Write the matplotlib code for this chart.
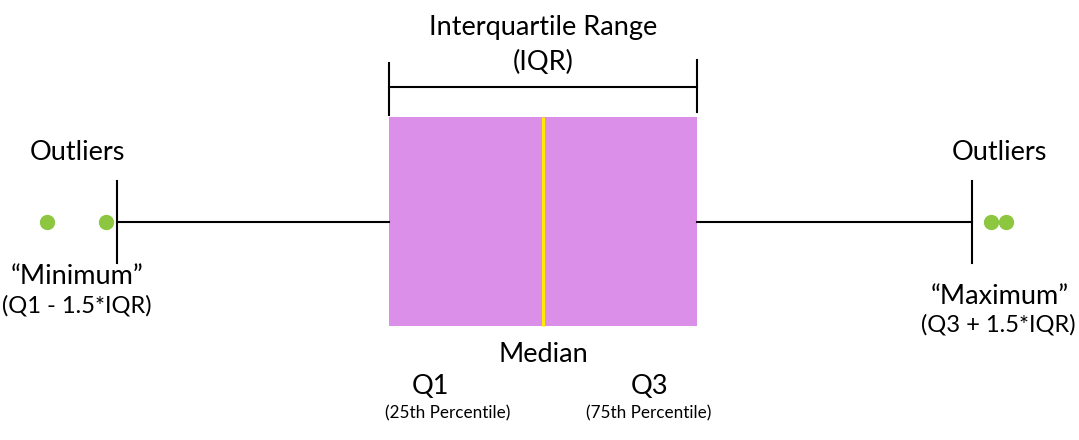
import matplotlib.pyplot as plt

# box statistics (in diagram units)
q1 = 389
median = 543
q3 = 697
whisker_low = 117
whisker_high = 972
outliers = [47, 106, 991, 1006]

plt.rcParams['font.family'] = ['Lato', 'DejaVu Sans']

fig = plt.figure(figsize=(10.79, 4.40), dpi=100)
ax = fig.add_axes([0, 0, 1, 1])
ax.set_xlim(0, 1079)
ax.set_ylim(440, 0)
ax.axis('off')

stats = [{'q1': q1, 'med': median, 'q3': q3,
          'whislo': whisker_low, 'whishi': whisker_high,
          'fliers': outliers}]

ax.bxp(stats, positions=[222], widths=[209], capwidths=[82],
       orientation='horizontal', patch_artist=True, manage_ticks=False,
       boxprops=dict(facecolor='#db8fe8', edgecolor='#db8fe8', linewidth=0),
       medianprops=dict(color='#ffec00', linewidth=2.2),
       whiskerprops=dict(color='black', linewidth=1.5),
       capprops=dict(color='black', linewidth=1.5),
       flierprops=dict(marker='o', markerfacecolor='#8dc63f',
                       markeredgecolor='#8dc63f', markersize=10))

# IQR bracket
ax.plot([q1, q3], [87, 87], color='black', lw=1.5)
ax.plot([q1, q1], [63, 115], color='black', lw=1.5)
ax.plot([q3, q3], [60, 112], color='black', lw=1.5)

big = 19.5
mid = 17
small = 12.3
ax.text(median, 27, 'Interquartile Range', fontsize=big, ha='center', va='center')
ax.text(median, 62, '(IQR)', fontsize=big, ha='center', va='center')
ax.text(77, 153, 'Outliers', fontsize=big, ha='center', va='center')
ax.text(999, 153, 'Outliers', fontsize=big, ha='center', va='center')
ax.text(77, 277, '\u201cMinimum\u201d', fontsize=big, ha='center', va='center')
ax.text(77, 306, '(Q1 - 1.5*IQR)', fontsize=mid, ha='center', va='center')
ax.text(1000, 296, '\u201cMaximum\u201d', fontsize=big, ha='center', va='center')
ax.text(998, 325, '(Q3 + 1.5*IQR)', fontsize=mid, ha='center', va='center')
ax.text(median, 355, 'Median', fontsize=big, ha='center', va='center')
ax.text(430, 386, 'Q1', fontsize=big, ha='center', va='center')
ax.text(650, 386, 'Q3', fontsize=big, ha='center', va='center')
ax.text(448, 413, '(25th Percentile)', fontsize=small, ha='center', va='center')
ax.text(649, 413, '(75th Percentile)', fontsize=small, ha='center', va='center')

fig.savefig('out.png', dpi=100, facecolor='white')
